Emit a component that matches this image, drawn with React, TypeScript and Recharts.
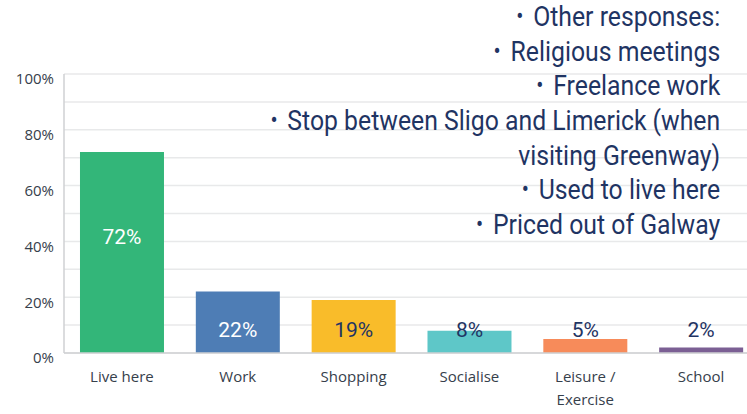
import React from "react";
import { BarChart, Bar, XAxis, YAxis, CartesianGrid, Cell, LabelList } from "recharts";

const categories = ["Live here", "Work", "Shopping", "Socialise", "Leisure / Exercise", "School"];
const values = [72, 22, 19, 8, 5, 2];
const barColors = ["#33b679", "#4e7db5", "#f9bc2a", "#5ec7c8", "#f78b5a", "#7b5f94"];
const labelColors = ["#ffffff", "#ffffff", "#1f3463", "#1f3463", "#1f3463", "#1f3463"];
const yTicks = [0, 10, 20, 30, 40, 50, 60, 70, 80, 90, 100];
const otherResponses = [
  { bullet: true, text: "Other responses:" },
  { bullet: true, text: "Religious meetings" },
  { bullet: true, text: "Freelance work" },
  { bullet: true, text: "Stop between Sligo and Limerick (when" },
  { bullet: false, text: "visiting Greenway)" },
  { bullet: true, text: "Used to live here" },
  { bullet: true, text: "Priced out of Galway" },
];

const data = categories.map((c, i) => ({ name: c, value: values[i], idx: i }));

const YTick = (props: any) => {
  const { x, y, payload } = props;
  if (payload.value % 20 !== 0) return null;
  return (
    <text x={x - 2} y={y + 5} dy="0.355em" textAnchor="end" fontSize={15} fill="#36404b" fontFamily="'Open Sans', sans-serif">
      {payload.value + "%"}
    </text>
  );
};

const XTick = (props: any) => {
  const { x, y, payload } = props;
  const label: string = payload.value;
  const lines = label.includes(" / ") ? [label.split(" / ")[0] + " /", label.split(" / ")[1]] : [label];
  return (
    <text x={x} y={y} textAnchor="middle" fontSize={15} fill="#36404b" fontFamily="'Open Sans', sans-serif">
      {lines.map((l, i) => (
        <tspan key={i} x={x} dy={i === 0 ? 21 : 23}>
          {l}
        </tspan>
      ))}
    </text>
  );
};

const BarLabel = (props: any) => {
  const { x, y, width, height, value, index } = props;
  const base = y + height;
  const ly = height > 100 ? y + height * 0.42 : base - 23;
  return (
    <text x={x + width / 2} y={ly} dy="0.355em" textAnchor="middle" fontSize={21} fill={labelColors[index]} fontFamily="Roboto, sans-serif">
      {value + "%"}
    </text>
  );
};

export default function App() {
  return (
    <div style={{ position: "absolute", left: 0, top: 0, width: 747, height: 414, overflow: "hidden", background: "#fff" }}>
      <BarChart width={760} height={414} data={data} margin={{ top: 74, right: 1, left: 0, bottom: 0 }} barCategoryGap="13.8%">
        <CartesianGrid horizontal vertical={false} stroke="#e8e9ea" strokeWidth={1.5} />
        <YAxis
          width={64}
          domain={[0, 100]}
          ticks={yTicks}
          interval={0}
          tick={<YTick />}
          tickLine={false}
          axisLine={{ stroke: "#cfd1d3", strokeWidth: 1.5 }}
        />
        <XAxis
          dataKey="name"
          height={61}
          interval={0}
          tick={<XTick />}
          tickLine={false}
          axisLine={{ stroke: "#cfd1d3", strokeWidth: 1.5 }}
        />
        <Bar dataKey="value" isAnimationActive={false}>
          {data.map((d, i) => (
            <Cell key={i} fill={barColors[i]} />
          ))}
          <LabelList dataKey="value" content={<BarLabel />} />
        </Bar>
      </BarChart>
      <div
        style={{
          position: "absolute",
          right: 27,
          top: 0,
          textAlign: "right",
          fontFamily: "Roboto, sans-serif",
          fontSize: 28,
          lineHeight: "34.7px",
          color: "#1f3463",
          whiteSpace: "nowrap",
        }}
      >
        {otherResponses.map((l, i) => (
          <div key={i} style={{ height: 34.7, transform: "scaleX(0.885)", transformOrigin: "right center" }}>
            {l.bullet ? (
              <span style={{ fontSize: 24, lineHeight: "1px", marginRight: 11, position: "relative", top: -2 }}>•</span>
            ) : null}
            {l.text}
          </div>
        ))}
      </div>
    </div>
  );
}
